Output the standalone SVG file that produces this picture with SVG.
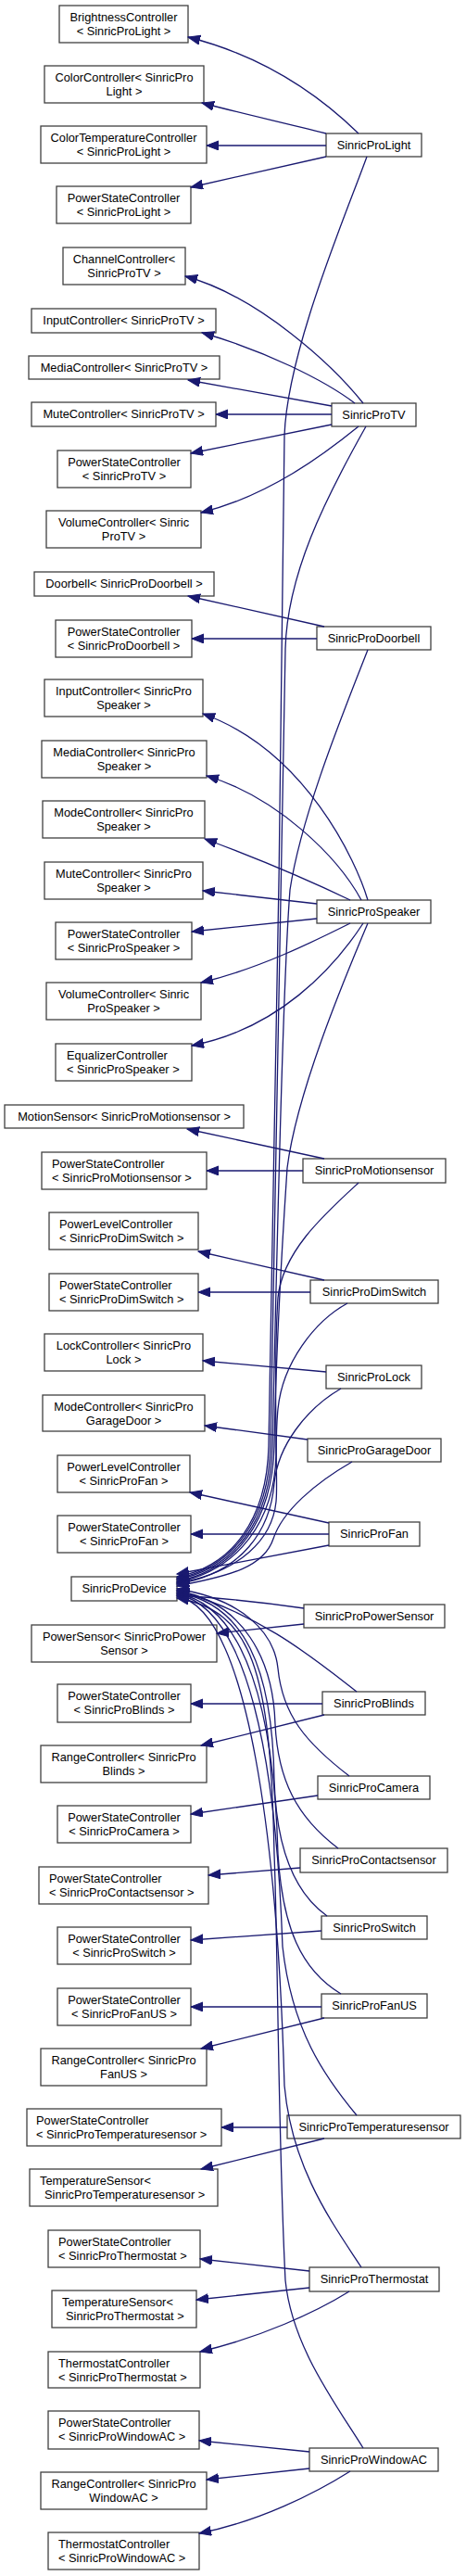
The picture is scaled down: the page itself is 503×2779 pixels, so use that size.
<svg xmlns="http://www.w3.org/2000/svg" width="503" height="2779" viewBox="0 0 503 2779">
<style>
.n rect{fill:#fff;stroke:#404040;stroke-width:1.3}
text{font-family:"Liberation Sans",Arial,Helvetica,sans-serif;font-size:12.8px;fill:#000}
.c text{text-anchor:middle}
.l text{text-anchor:start}
#edges path{fill:none;stroke:#191970;stroke-width:1.3;marker-end:url(#arr)}
</style>
<defs>
<marker id="arr" markerUnits="userSpaceOnUse" markerWidth="15" markerHeight="12" refX="13" refY="5" orient="auto">
<path d="M0,0 L13,5 L0,10 z" fill="#191970" stroke="#191970" stroke-width="1"/>
</marker>
</defs>
<rect width="503" height="2779" fill="#fff"/>
<g id="nodes">
<g id="n1" class="n c"><rect x="64" y="6" width="139" height="40"/><text x="133.5" y="22.5">BrightnessController</text><text x="133.5" y="37.5">&lt; SinricProLight &gt;</text></g>
<g id="n2" class="n c"><rect x="48" y="71" width="172" height="40"/><text x="134" y="87.5">ColorController&lt; SinricPro</text><text x="134" y="102.5">Light &gt;</text></g>
<g id="n3" class="n c"><rect x="44" y="136" width="179" height="40"/><text x="133.5" y="152.5">ColorTemperatureController</text><text x="133.5" y="167.5">&lt; SinricProLight &gt;</text></g>
<g id="n4" class="n c"><rect x="61" y="201" width="145" height="40"/><text x="133.5" y="217.5">PowerStateController</text><text x="133.5" y="232.5">&lt; SinricProLight &gt;</text></g>
<g id="n5" class="n c"><rect x="352" y="144" width="103" height="25"/><text x="403.5" y="160.5">SinricProLight</text></g>
<g id="n6" class="n c"><rect x="68" y="267" width="132" height="40"/><text x="134" y="283.5">ChannelController&lt;</text><text x="134" y="298.5">SinricProTV &gt;</text></g>
<g id="n7" class="n c"><rect x="34" y="333" width="199" height="26"/><text x="133.5" y="350">InputController&lt; SinricProTV &gt;</text></g>
<g id="n8" class="n c"><rect x="31" y="384" width="206" height="25"/><text x="134" y="400.5">MediaController&lt; SinricProTV &gt;</text></g>
<g id="n9" class="n c"><rect x="34" y="434" width="199" height="26"/><text x="133.5" y="451">MuteController&lt; SinricProTV &gt;</text></g>
<g id="n10" class="n c"><rect x="358" y="435" width="91" height="25"/><text x="403.5" y="451.5">SinricProTV</text></g>
<g id="n11" class="n c"><rect x="62" y="486" width="144" height="40"/><text x="134" y="502.5">PowerStateController</text><text x="134" y="517.5">&lt; SinricProTV &gt;</text></g>
<g id="n12" class="n c"><rect x="50" y="551" width="167" height="40"/><text x="133.5" y="567.5">VolumeController&lt; Sinric</text><text x="133.5" y="582.5">ProTV &gt;</text></g>
<g id="n13" class="n c"><rect x="37" y="617" width="194" height="26"/><text x="134" y="634">Doorbell&lt; SinricProDoorbell &gt;</text></g>
<g id="n14" class="n c"><rect x="60" y="669" width="147" height="40"/><text x="133.5" y="685.5">PowerStateController</text><text x="133.5" y="700.5">&lt; SinricProDoorbell &gt;</text></g>
<g id="n15" class="n c"><rect x="342" y="676" width="123" height="25"/><text x="403.5" y="692.5">SinricProDoorbell</text></g>
<g id="n16" class="n c"><rect x="48" y="733" width="171" height="40"/><text x="133.5" y="749.5">InputController&lt; SinricPro</text><text x="133.5" y="764.5">Speaker &gt;</text></g>
<g id="n17" class="n c"><rect x="45" y="799" width="178" height="40"/><text x="134" y="815.5">MediaController&lt; SinricPro</text><text x="134" y="830.5">Speaker &gt;</text></g>
<g id="n18" class="n c"><rect x="46" y="864" width="175" height="40"/><text x="133.5" y="880.5">ModeController&lt; SinricPro</text><text x="133.5" y="895.5">Speaker &gt;</text></g>
<g id="n19" class="n c"><rect x="48" y="930" width="171" height="40"/><text x="133.5" y="946.5">MuteController&lt; SinricPro</text><text x="133.5" y="961.5">Speaker &gt;</text></g>
<g id="n20" class="n c"><rect x="342" y="971" width="123" height="25"/><text x="403.5" y="987.5">SinricProSpeaker</text></g>
<g id="n21" class="n c"><rect x="60" y="995" width="147" height="40"/><text x="133.5" y="1011.5">PowerStateController</text><text x="133.5" y="1026.5">&lt; SinricProSpeaker &gt;</text></g>
<g id="n22" class="n c"><rect x="50" y="1060" width="167" height="40"/><text x="133.5" y="1076.5">VolumeController&lt; Sinric</text><text x="133.5" y="1091.5">ProSpeaker &gt;</text></g>
<g id="n23" class="n l"><rect x="60" y="1126" width="147" height="40"/><text x="72" y="1142.5">EqualizerController</text><text x="72" y="1157.5">&lt; SinricProSpeaker &gt;</text></g>
<g id="n24" class="n c"><rect x="5" y="1192" width="258" height="25"/><text x="134" y="1208.5">MotionSensor&lt; SinricProMotionsensor &gt;</text></g>
<g id="n25" class="n l"><rect x="45" y="1243" width="178" height="40"/><text x="56" y="1259.5">PowerStateController</text><text x="56" y="1274.5">&lt; SinricProMotionsensor &gt;</text></g>
<g id="n26" class="n c"><rect x="327" y="1250" width="154" height="26"/><text x="404" y="1267">SinricProMotionsensor</text></g>
<g id="n27" class="n l"><rect x="53" y="1308" width="161" height="40"/><text x="64" y="1324.5">PowerLevelController</text><text x="64" y="1339.5">&lt; SinricProDimSwitch &gt;</text></g>
<g id="n28" class="n l"><rect x="53" y="1374" width="161" height="40"/><text x="64" y="1390.5">PowerStateController</text><text x="64" y="1405.5">&lt; SinricProDimSwitch &gt;</text></g>
<g id="n29" class="n c"><rect x="335" y="1381" width="138" height="25"/><text x="404" y="1397.5">SinricProDimSwitch</text></g>
<g id="n30" class="n c"><rect x="48" y="1439" width="171" height="40"/><text x="133.5" y="1455.5">LockController&lt; SinricPro</text><text x="133.5" y="1470.5">Lock &gt;</text></g>
<g id="n31" class="n c"><rect x="352" y="1473" width="103" height="25"/><text x="403.5" y="1489.5">SinricProLock</text></g>
<g id="n32" class="n c"><rect x="46" y="1505" width="175" height="39"/><text x="133.5" y="1521.5">ModeController&lt; SinricPro</text><text x="133.5" y="1536.5">GarageDoor &gt;</text></g>
<g id="n33" class="n c"><rect x="332" y="1552" width="144" height="25"/><text x="404" y="1568.5">SinricProGarageDoor</text></g>
<g id="n34" class="n c"><rect x="62" y="1570" width="143" height="40"/><text x="133.5" y="1586.5">PowerLevelController</text><text x="133.5" y="1601.5">&lt; SinricProFan &gt;</text></g>
<g id="n35" class="n c"><rect x="62" y="1635" width="144" height="40"/><text x="134" y="1651.5">PowerStateController</text><text x="134" y="1666.5">&lt; SinricProFan &gt;</text></g>
<g id="n36" class="n c"><rect x="355" y="1642" width="98" height="26"/><text x="404" y="1659">SinricProFan</text></g>
<g id="n37" class="n c"><rect x="77" y="1701" width="114" height="26"/><text x="134" y="1718">SinricProDevice</text></g>
<g id="n38" class="n c"><rect x="328" y="1731" width="152" height="25"/><text x="404" y="1747.5">SinricProPowerSensor</text></g>
<g id="n39" class="n c"><rect x="34" y="1753" width="200" height="40"/><text x="134" y="1769.5">PowerSensor&lt; SinricProPower</text><text x="134" y="1784.5">Sensor &gt;</text></g>
<g id="n40" class="n c"><rect x="62" y="1817" width="144" height="41"/><text x="134" y="1833.5">PowerStateController</text><text x="134" y="1848.5">&lt; SinricProBlinds &gt;</text></g>
<g id="n41" class="n c"><rect x="348" y="1825" width="111" height="25"/><text x="403.5" y="1841.5">SinricProBlinds</text></g>
<g id="n42" class="n c"><rect x="44" y="1883" width="179" height="40"/><text x="133.5" y="1899.5">RangeController&lt; SinricPro</text><text x="133.5" y="1914.5">Blinds &gt;</text></g>
<g id="n43" class="n c"><rect x="343" y="1916" width="121" height="25"/><text x="403.5" y="1932.5">SinricProCamera</text></g>
<g id="n44" class="n c"><rect x="62" y="1948" width="144" height="40"/><text x="134" y="1964.5">PowerStateController</text><text x="134" y="1979.5">&lt; SinricProCamera &gt;</text></g>
<g id="n45" class="n c"><rect x="324" y="1994" width="159" height="26"/><text x="403.5" y="2011">SinricProContactsensor</text></g>
<g id="n46" class="n l"><rect x="42" y="2014" width="183" height="40"/><text x="53" y="2030.5">PowerStateController</text><text x="53" y="2045.5">&lt; SinricProContactsensor &gt;</text></g>
<g id="n47" class="n c"><rect x="347" y="2067" width="114" height="25"/><text x="404" y="2083.5">SinricProSwitch</text></g>
<g id="n48" class="n c"><rect x="62" y="2079" width="144" height="40"/><text x="134" y="2095.5">PowerStateController</text><text x="134" y="2110.5">&lt; SinricProSwitch &gt;</text></g>
<g id="n49" class="n c"><rect x="347" y="2151" width="114" height="26"/><text x="404" y="2168">SinricProFanUS</text></g>
<g id="n50" class="n c"><rect x="62" y="2145" width="144" height="40"/><text x="134" y="2161.5">PowerStateController</text><text x="134" y="2176.5">&lt; SinricProFanUS &gt;</text></g>
<g id="n51" class="n c"><rect x="44" y="2210" width="179" height="40"/><text x="133.5" y="2226.5">RangeController&lt; SinricPro</text><text x="133.5" y="2241.5">FanUS &gt;</text></g>
<g id="n52" class="n l"><rect x="29" y="2275" width="210" height="40"/><text x="39" y="2291.5">PowerStateController</text><text x="39" y="2306.5">&lt; SinricProTemperaturesensor &gt;</text></g>
<g id="n53" class="n c"><rect x="310" y="2282" width="187" height="25"/><text x="403.5" y="2298.5">SinricProTemperaturesensor</text></g>
<g id="n54" class="n l"><rect x="32" y="2340" width="203" height="40"/><text x="43" y="2356.5">TemperatureSensor&lt;</text><text x="48" y="2371.5">SinricProTemperaturesensor &gt;</text></g>
<g id="n55" class="n l"><rect x="52" y="2406" width="164" height="40"/><text x="63" y="2422.5">PowerStateController</text><text x="63" y="2437.5">&lt; SinricProThermostat &gt;</text></g>
<g id="n56" class="n c"><rect x="334" y="2446" width="140" height="26"/><text x="404" y="2463">SinricProThermostat</text></g>
<g id="n57" class="n l"><rect x="56" y="2471" width="156" height="40"/><text x="67" y="2487.5">TemperatureSensor&lt;</text><text x="71" y="2502.5">SinricProThermostat &gt;</text></g>
<g id="n58" class="n l"><rect x="52" y="2537" width="164" height="39"/><text x="63" y="2553.5">ThermostatController</text><text x="63" y="2568.5">&lt; SinricProThermostat &gt;</text></g>
<g id="n59" class="n l"><rect x="52" y="2601" width="163" height="41"/><text x="63" y="2617.5">PowerStateController</text><text x="63" y="2632.5">&lt; SinricProWindowAC &gt;</text></g>
<g id="n60" class="n c"><rect x="334" y="2641" width="139" height="25"/><text x="403.5" y="2657.5">SinricProWindowAC</text></g>
<g id="n61" class="n c"><rect x="44" y="2667" width="179" height="40"/><text x="133.5" y="2683.5">RangeController&lt; SinricPro</text><text x="133.5" y="2698.5">WindowAC &gt;</text></g>
<g id="n62" class="n l"><rect x="52" y="2732" width="163" height="40"/><text x="63" y="2748.5">ThermostatController</text><text x="63" y="2763.5">&lt; SinricProWindowAC &gt;</text></g>
</g>
<g id="edges">
<path d="M387,144 C350,108 290,62 203,40"/>
<path d="M352,144 C300,131 255,121 218,111"/>
<path d="M352,157 L223,157"/>
<path d="M352,169 L206,202"/>
<path d="M392,435 C360,395 280,320 200,298"/>
<path d="M383,435 C350,410 285,378 218,359"/>
<path d="M358,438 L203,410"/>
<path d="M358,447 L233,447"/>
<path d="M358,458 L206,489"/>
<path d="M387,460 C350,490 290,535 217,553"/>
<path d="M350,676 L203,643"/>
<path d="M342,689 L207,689"/>
<path d="M397,971 C385,930 330,810 219,770"/>
<path d="M390,971 C365,925 300,860 223,837"/>
<path d="M378,971 C330,948 275,925 221,905"/>
<path d="M342,975 L219,961"/>
<path d="M342,991 L207,1005"/>
<path d="M378,996 C340,1015 280,1045 217,1060"/>
<path d="M392,996 C360,1045 300,1110 207,1128"/>
<path d="M350,1250 L202,1218"/>
<path d="M327,1263 L223,1263"/>
<path d="M350,1381 L214,1350"/>
<path d="M335,1394 L214,1394"/>
<path d="M352,1480 L219,1468"/>
<path d="M332,1553 L221,1538"/>
<path d="M355,1643 L205,1610"/>
<path d="M355,1655 L206,1655"/>
<path d="M328,1752 L234,1762"/>
<path d="M348,1838 L206,1838"/>
<path d="M350,1850 L217,1883"/>
<path d="M343,1937 L206,1957"/>
<path d="M324,2015 L225,2023"/>
<path d="M347,2083 L206,2093"/>
<path d="M347,2165 L206,2165"/>
<path d="M350,2177 L217,2210"/>
<path d="M310,2295 L239,2295"/>
<path d="M350,2307 L217,2340"/>
<path d="M334,2450 L216,2437"/>
<path d="M334,2468 L212,2481"/>
<path d="M377,2472 C340,2495 280,2522 216,2537"/>
<path d="M334,2645 L215,2633"/>
<path d="M334,2663 L223,2675"/>
<path d="M378,2666 C340,2690 280,2720 215,2733"/>
<path d="M396,169 C372,235 310,380 307,470 C304,800 296,1300 290,1560 C288,1640 250,1690 191,1701"/>
<path d="M395,460 C350,540 310,620 308,700 C305,1000 298,1300 292,1560 C290,1640 252,1690 191,1703"/>
<path d="M397,701 C370,770 325,880 313,960 C306,1050 300,1300 294,1560 C292,1640 254,1692 191,1704"/>
<path d="M397,996 C370,1060 320,1180 310,1260 C304,1350 298,1450 296,1560 C294,1640 256,1693 191,1706"/>
<path d="M387,1276 C350,1310 305,1350 300,1400 C296,1460 298,1520 298,1570 C296,1640 258,1694 191,1707"/>
<path d="M375,1406 C340,1425 305,1470 300,1520 C296,1560 300,1600 298,1620 C294,1660 260,1696 191,1708"/>
<path d="M368,1498 C330,1520 300,1560 296,1600 C292,1650 262,1697 191,1709"/>
<path d="M380,1577 C340,1600 305,1630 295,1660 C285,1690 250,1700 191,1711"/>
<path d="M355,1667 L191,1698"/>
<path d="M328,1735 C280,1728 240,1724 191,1721"/>
<path d="M385,1825 C340,1790 280,1740 191,1716"/>
<path d="M377,1916 C330,1880 305,1850 300,1800 C296,1760 260,1725 191,1714"/>
<path d="M365,1994 C320,1960 300,1920 297,1860 C295,1790 262,1728 191,1716"/>
<path d="M353,2067 C315,2040 298,1990 296,1920 C294,1800 264,1730 191,1718"/>
<path d="M368,2151 C325,2125 305,2080 300,2000 C296,1850 266,1732 191,1719"/>
<path d="M385,2282 C350,2240 315,2190 305,2100 C298,1900 268,1734 191,1720"/>
<path d="M390,2446 C360,2400 315,2340 307,2250 C300,2000 270,1736 191,1722"/>
<path d="M392,2641 C360,2590 315,2530 308,2460 C300,2300 300,2100 296,2000 C292,1800 272,1738 191,1724"/>
</g>
</svg>
